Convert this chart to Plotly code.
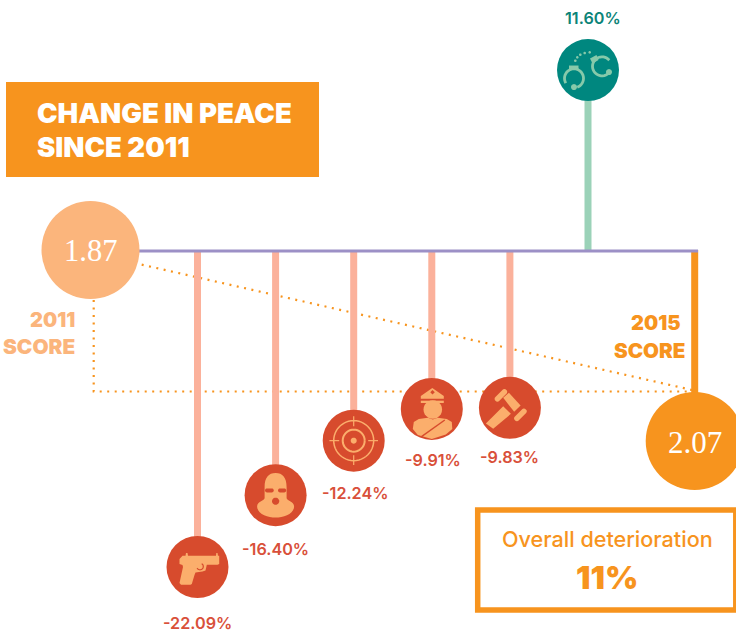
import math
import plotly.graph_objects as go

# ---- data ----
indicators = ["Weapons imports", "Security officers", "Homicide", "Police", "Incarceration", "Jailed population"]
change_pct = [-22.09, -16.40, -12.24, -9.91, -9.83, 11.60]
score_years = ["2011", "2015"]
scores = [1.87, 2.07]
overall_change = 11
title_lines = ["CHANGE IN PEACE", "SINCE 2011"]

# ---- styles / layout ----
W, H = 736, 634
ORANGE = "#F7941E"; PALE = "#FBB57C"; ICON = "#FBAE6C"
RED = "#D74B2D"; RED_TXT = "#D9503A"; STEM = "#FBB19B"
TEAL = "#00877F"; TEAL_TXT = "#0C8478"; TEAL_STEM = "#9BD2B8"; TEAL_ICON = "#86C9AA"
PURPLE = "#9C90C6"
SANS = "Inter, 'Noto Sans', sans-serif"
SERIF = "'Liberation Serif', serif"
LABEL_GAP = [56, 54, 52, 51, 49, 52]
LABEL_SHIFT = [0, 0, 2, 1, 0, 5]

def scale(v):
    """Compressive display scale used by the original stems."""
    return math.copysign(abs(v) ** 0.865, v)

XR = [-197.5 / 78.1, (W - 197.5) / 78.1]
YR = [-17.63, 11.556]
def x_at(px): return XR[0] + px / W * (XR[1] - XR[0])
def y_at(px): return YR[1] - px / H * (YR[1] - YR[0])

xs = list(range(len(change_pct)))
ys = [scale(v) for v in change_pct]
x11, x15 = x_at(90.5), x_at(694.7)
y11, y15 = y_at(250), y_at(441)

fig = go.Figure()

def line(x, y, color, width, dash=None):
    fig.add_trace(go.Scatter(x=x, y=y, mode="lines", hoverinfo="skip", showlegend=False,
                             line=dict(color=color, width=width, dash=dash)))

# dotted connectors
DOT = "2px,5.5px"
line([x_at(90.5), x_at(692)], [y_at(253), y_at(390)], ORANGE, 2.2, DOT)
line([x_at(93.7), x_at(93.7), x_at(692)], [y_at(300), y_at(391.5), y_at(391.5)], ORANGE, 2.2, DOT)

# stems
for x, y, v in zip(xs, ys, change_pct):
    line([x, x], [0, y], STEM if v < 0 else TEAL_STEM, 7)
line([x15, x15], [y_at(250), y15], ORANGE, 7)
line([x_at(139), x_at(698)], [y_at(251), y_at(251)], PURPLE, 2.8)

# circles
fig.add_trace(go.Scatter(x=xs, y=ys, mode="markers", hoverinfo="skip", showlegend=False,
                         marker=dict(size=62, line_width=0, opacity=1,
                                     color=[RED if v < 0 else TEAL for v in change_pct])))
fig.add_trace(go.Scatter(x=[x11, x15], y=[y11, y15], mode="markers", hoverinfo="skip", showlegend=False,
                         marker=dict(size=98, line_width=0, color=[PALE, ORANGE])))

# ---- icon helpers: offsets in pixels, y downwards ----
def poly(pts):
    return "M" + " L".join(f"{x:.2f},{-y:.2f}" for x, y in pts) + " Z"
def disc(cx, cy, r):
    return poly([(cx + r * math.cos(a / 24 * 2 * math.pi), cy + r * math.sin(a / 24 * 2 * math.pi)) for a in range(24)])
def stadium(x0, y0, x1, y1, r):
    a = math.atan2(y1 - y0, x1 - x0)
    pts = []
    for k in range(9):
        t = a + math.pi / 2 + k / 8 * math.pi
        pts.append((x0 + r * math.cos(t), y0 + r * math.sin(t)))
    for k in range(9):
        t = a - math.pi / 2 + k / 8 * math.pi
        pts.append((x1 + r * math.cos(t), y1 + r * math.sin(t)))
    return poly(pts)
def arc(cx, cy, r, a0, a1, n=28):
    pts = [(cx + r * math.cos(math.radians(a0 + (a1 - a0) * k / n)),
            cy + r * math.sin(math.radians(a0 + (a1 - a0) * k / n))) for k in range(n + 1)]
    return "M" + " L".join(f"{x:.2f},{-y:.2f}" for x, y in pts)

def icon(i, path, fill=None, stroke=None, w=0):
    fig.add_shape(type="path", path=path, xref="x", yref="y", xsizemode="pixel", ysizemode="pixel",
                  xanchor=xs[i], yanchor=ys[i], layer="above",
                  fillcolor=fill if fill else "rgba(0,0,0,0)",
                  line=dict(color=stroke if stroke else "rgba(0,0,0,0)", width=w))

# pistol
icon(0, poly([(-18, -8), (-15, -11.3), (-12, -11.3), (-11.5, -14), (-10, -14), (-9.5, -11.3), (18.5, -11.3),
              (18.8, -14), (20, -14), (20.5, -11.3), (21.7, -11.3), (21.7, -3), (20, -2.3), (9.3, -2.3),
              (8, 3.5), (5, 4.5), (-2, 5.5), (-3, 8), (-5.7, 17), (-7, 17.7), (-16.5, 17.7), (-18, 16),
              (-14.5, 0), (-15, -2), (-18, -3)]), ICON)
icon(0, arc(2.5, -0.5, 3.3, -60, 150), None, RED, 1.2)

# balaclava
icon(1, "M-11,8 C-11,18 -7,22.3 0,22.3 C7,22.3 11,18 11,8 L11,-3 C12,-6 18,-6 18.5,-11 "
        "C18.5,-19 8,-22.3 0,-22.3 C-8,-22.3 -18.5,-19 -18.5,-11 C-18,-6 -12,-6 -11,-3 Z", ICON)
icon(1, stadium(-8.6, -4.8, -3.8, -4.8, 2), RED)
icon(1, stadium(4.4, -4.8, 8.6, -4.8, 2), RED)
icon(1, disc(0, 6, 3.6), RED)

# target
icon(2, arc(0, 0, 20, 0, 360, 48), None, ICON, 1.5)
icon(2, arc(0, 0, 11, 0, 360, 36), None, ICON, 2)
icon(2, disc(0, 0, 3), ICON)
for x0, y0, x1, y1 in [(-24.3, 0, -14.5, 0), (14.5, 0, 24.3, 0), (0, -24.3, 0, -14.5), (0, 14.5, 0, 24.3)]:
    icon(2, f"M{x0},{-y0} L{x1},{-y1}", None, ICON, 1.2)

# police officer
icon(3, poly([(-11, -13), (0.5, -21), (12, -13), (12, -10.3), (-11, -10.3)]), ICON)
icon(3, poly([(-1.5, -16.8), (0.7, -19), (3, -16.8), (0.7, -14.6)]), RED)
icon(3, poly([(-11, -8.3), (12, -8.3), (12, -6), (-11, -6)]), ICON)
icon(3, disc(1, 0.5, 9.3), ICON)
icon(3, poly([(-19, 20), (-18, 13), (-13, 10), (-4, 8.8), (1, 10.5), (6, 8.8), (15, 10), (20, 13), (20.5, 20),
              (14, 25.5), (0, 30), (-14, 26)]), ICON)
icon(3, "M-10.3,-27.7 L13,-11", None, RED, 1.4)

# gavel
icon(4, poly([(-6.7, -10), (-1, -15), (10.7, -2.3), (4.3, 4)]), ICON)
icon(4, poly([(-6.7, -1.7), (1, 6), (-16.7, 21), (-24, 15.7)]), ICON)
icon(4, stadium(-12.5, -9, -5.5, -16, 2.8), ICON)
icon(4, stadium(7, 10.5, 14, 3.5, 2.8), ICON)

# handcuffs
icon(5, arc(-14, 8.3, 9.5, 70, -210), None, TEAL_ICON, 2.8)
icon(5, disc(-14, 17, 3), TEAL_ICON)
icon(5, poly([(-19, -4.5), (-9.5, -4.5), (-9.5, 0), (-19, 0)]), TEAL_ICON)
icon(5, arc(14, -3.7, 9.5, 35, 320), None, TEAL_ICON, 2.8)
icon(5, disc(21, 2, 3), TEAL_ICON)
icon(5, poly([(2, -11.5), (8.5, -15), (10.5, -10), (4.5, -6.5)]), TEAL_ICON)
for dx, dy in [(-12.7, -9.3), (-10.7, -12.7), (-7.7, -15.3), (-3.3, -17), (1.7, -17.7)]:
    icon(5, disc(dx, dy, 1.3), TEAL_ICON)

# ---- boxes ----
def px(x): return x / W
def py(y): return 1 - y / H
fig.add_shape(type="rect", xref="paper", yref="paper", x0=px(6), x1=px(319), y0=py(177), y1=py(82),
              fillcolor=ORANGE, line_width=0, layer="below")
fig.add_shape(type="rect", xref="paper", yref="paper", x0=px(477.7), x1=px(735.8), y0=py(610), y1=py(510),
              fillcolor="rgba(0,0,0,0)", line=dict(color=ORANGE, width=5.5), layer="below")

# ---- text ----
def text(x, y, s, size, color, anchor="center", weight=400, family=SANS):
    fig.add_annotation(xref="paper", yref="paper", x=px(x), y=py(y), text=s, showarrow=False,
                       xanchor=anchor, yanchor="middle", borderpad=0, borderwidth=0,
                       font=dict(family=family, size=size, color=color, weight=weight))

text(37, 113, title_lines[0], 27.5, "white", "left", 900)
text(37, 147, title_lines[1], 27.5, "white", "left", 900)
text(75, 320, score_years[0], 20, PALE, "right", 900)
text(75, 346, "SCORE", 20.8, PALE, "right", 900)
text(681, 323, score_years[1], 20, ORANGE, "right", 900)
text(685, 350, "SCORE", 20.6, ORANGE, "right", 900)
text(90.5, 251, f"{scores[0]:.2f}", 30.5, "white", family=SERIF)
text(694.7, 442, f"{scores[1]:.2f}", 31, "white", family=SERIF)
text(607, 539, "Overall deterioration", 21.6, ORANGE, weight=500)
text(607, 577, f"{overall_change}%", 32, ORANGE, weight=900)

for i, (x, y, v) in enumerate(zip(xs, ys, change_pct)):
    gap = LABEL_GAP[i]
    fig.add_annotation(x=x, y=y, text=f"{v:.2f}%", showarrow=False, xanchor="center", yanchor="middle",
                       yshift=-gap if v < 0 else gap, xshift=LABEL_SHIFT[i],
                       font=dict(family=SANS, size=16.2, weight=600, color=RED_TXT if v < 0 else TEAL_TXT))

fig.update_xaxes(range=XR, visible=False, fixedrange=True)
fig.update_yaxes(range=YR, visible=False, fixedrange=True)
fig.update_layout(width=W, height=H, margin=dict(l=0, r=0, t=0, b=0),
                  paper_bgcolor="white", plot_bgcolor="rgba(0,0,0,0)", showlegend=False)
fig.write_html("out.html", config=dict(displayModeBar=False),
               post_script="document.body.style.margin='0';")
